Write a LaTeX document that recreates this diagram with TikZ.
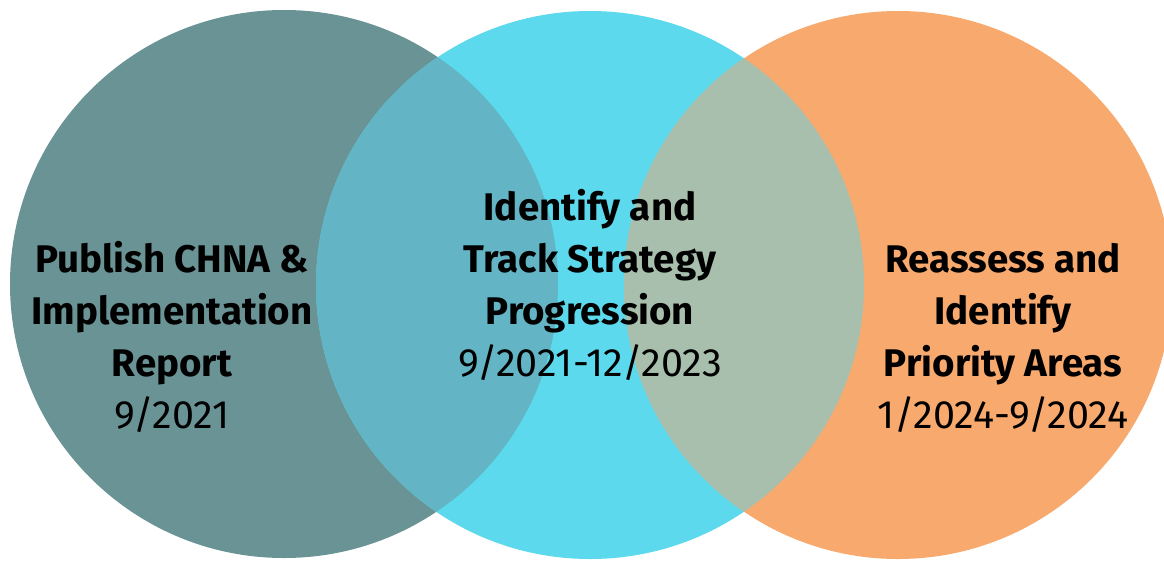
\documentclass[tikz,border=0pt]{standalone}
\usepackage{fontspec}
\setmainfont{Fira Sans}
\definecolor{cteal}{HTML}{6A9395}
\definecolor{ccyan}{HTML}{5CD9EC}
\definecolor{corange}{HTML}{F7A96E}
\definecolor{cmixa}{HTML}{63B4C4}
\definecolor{cmixb}{HTML}{A8BFAE}
\tikzset{
  ttl/.style={anchor=base, font=\fontsize{38.5}{44}\selectfont\bfseries, text=black, inner sep=0pt},
  dte/.style={anchor=base, font=\fontsize{39.5}{44}\selectfont, text=black, inner sep=0pt},
}
\begin{document}
\begin{tikzpicture}[x=1pt,y=-1pt]
\useasboundingbox (0,0) rectangle (1164,560);
\coordinate (cl) at (284,284);
\coordinate (cc) at (590,285);
\coordinate (cr) at (898,285);
\fill[cteal] (cl) circle[radius=274pt];
\fill[ccyan] (cc) circle[radius=274pt];
\fill[corange] (cr) circle[radius=274pt];
\begin{scope}
  \clip (cl) circle[radius=274pt];
  \fill[cmixa] (cc) circle[radius=274pt];
\end{scope}
\begin{scope}
  \clip (cr) circle[radius=274pt];
  \fill[cmixb] (cc) circle[radius=274pt];
\end{scope}
% left text
\node[ttl] (l1) at (172,272) {Publish CHNA \&};
\node[ttl] (l2) at (172,324) {Implementation};
\node[ttl] (l3) at (172,376) {Report};
\node[dte] (l4) at (172,428) {9/2021};
% center text
\node[ttl] (c1) at (590,220) {Identify and};
\node[ttl] (c2) at (590,272) {Track Strategy};
\node[ttl] (c3) at (590,324) {Progression};
\node[dte] (c4) at (590,376) {9/2021-12/2023};
% right text
\node[ttl] (r1) at (1003,272) {Reassess and};
\node[ttl] (r2) at (1003,324) {Identify};
\node[ttl] (r3) at (1003,376) {Priority Areas};
\node[dte] (r4) at (1003,428) {1/2024-9/2024};
\end{tikzpicture}
\end{document}
